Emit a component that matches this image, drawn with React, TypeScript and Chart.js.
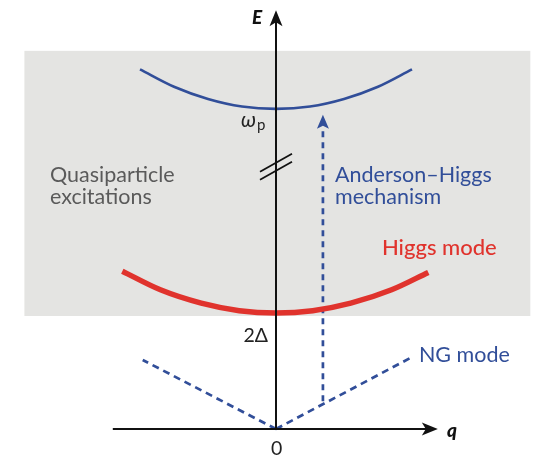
import React, { useEffect, useRef } from "react";
import { Chart, registerables } from "chart.js";

Chart.register(...registerables);

// ---- data (q in units of the NG-line extent, E in units of 2Δ) ----
const plasmaQ = [-1.0, -0.75, -0.5, -0.25, 0, 0.25, 0.5, 0.75, 1.0];
const plasmaE = [3.1, 2.95, 2.845, 2.78, 2.76, 2.78, 2.845, 2.95, 3.1];
const higgsQ = [-1.13, -0.85, -0.55, -0.27, 0, 0.27, 0.55, 0.85, 1.12];
const higgsE = [1.36, 1.2, 1.085, 1.02, 1.0, 1.02, 1.085, 1.2, 1.35];
const ngLeftQ = [0, -0.98];
const ngLeftE = [0, 0.595];
const ngRightQ = [0, 1.0];
const ngRightE = [0, 0.62];
const andersonQ = [0.345, 0.345];
const andersonE = [0.24, 2.6];
const andersonTipE = 2.71;
const continuumQ = [-1.85, 1.87];
const continuumE = [0.974, 3.26];
const qAxisRange = [-1.2, 1.19];
const eAxisRange = [0, 3.61];
const breakE = 2.26;

const FONT = "Lato, 'Open Sans', sans-serif";
const BLUE = "#314e99";
const RED = "#e0332d";
const GRAY_BG = "#e4e4e2";

type Label = { text: string; q: number; E: number; color: string; font: string; align: CanvasTextAlign };
const labels: Label[] = [
  { text: "Quasiparticle", q: -1.662, E: 2.129, color: "#5a5a5a", font: `21.5px ${FONT}`, align: "left" },
  { text: "excitations", q: -1.662, E: 1.94, color: "#5a5a5a", font: `21.5px ${FONT}`, align: "left" },
  { text: "Anderson–Higgs", q: 0.434, E: 2.129, color: BLUE, font: `21.5px ${FONT}`, align: "left" },
  { text: "mechanism", q: 0.434, E: 1.94, color: BLUE, font: `21.5px ${FONT}`, align: "left" },
  { text: "Higgs mode", q: 0.779, E: 1.5, color: RED, font: `500 22px ${FONT}`, align: "left" },
  { text: "NG mode", q: 1.051, E: 0.578, color: BLUE, font: `21.5px ${FONT}`, align: "left" },
  { text: "2Δ", q: -0.059, E: 0.75, color: "#222", font: `19.5px ${FONT}`, align: "right" },
  { text: "0", q: 0.005, E: -0.224, color: "#222", font: `19.5px ${FONT}`, align: "center" },
  { text: "ω", q: -0.257, E: 2.6, color: "#222", font: `italic 21px ${FONT}`, align: "left" },
  { text: "p", q: -0.14, E: 2.58, color: "#222", font: `15px ${FONT}`, align: "left" },
  { text: "E", q: -0.176, E: 3.49, color: "#111", font: `italic 900 19px ${FONT}`, align: "left" },
  { text: "q", q: 1.257, E: -0.069, color: "#111", font: `italic 900 19px ${FONT}`, align: "left" },
];

const pts = (xs: number[], ys: number[]) => xs.map((x, i) => ({ x, y: ys[i] }));

const schematicPlugin = {
  id: "schematic",
  beforeDatasetsDraw(chart: any) {
    const { ctx, scales } = chart;
    const X = (v: number) => scales.x.getPixelForValue(v);
    const Y = (v: number) => scales.y.getPixelForValue(v);
    ctx.save();
    ctx.fillStyle = GRAY_BG;
    ctx.fillRect(X(continuumQ[0]), Y(continuumE[1]), X(continuumQ[1]) - X(continuumQ[0]), Y(continuumE[0]) - Y(continuumE[1]));
    ctx.restore();
  },
  afterDatasetsDraw(chart: any) {
    const { ctx, scales } = chart;
    const X = (v: number) => scales.x.getPixelForValue(v);
    const Y = (v: number) => scales.y.getPixelForValue(v);
    ctx.save();
    // axes
    ctx.strokeStyle = "#111";
    ctx.fillStyle = "#111";
    ctx.lineWidth = 2;
    const x0 = X(0), y0 = Y(0);
    const yTop = Y(eAxisRange[1]);
    const xRight = X(qAxisRange[1]);
    ctx.beginPath();
    ctx.moveTo(x0, y0);
    ctx.lineTo(x0, yTop + 8);
    ctx.moveTo(X(qAxisRange[0]), y0);
    ctx.lineTo(xRight - 8, y0);
    ctx.stroke();
    // arrowheads
    ctx.beginPath();
    ctx.moveTo(x0, yTop);
    ctx.lineTo(x0 - 6.5, yTop + 16);
    ctx.lineTo(x0, yTop + 12);
    ctx.lineTo(x0 + 6.5, yTop + 16);
    ctx.closePath();
    ctx.fill();
    ctx.beginPath();
    ctx.moveTo(xRight, y0);
    ctx.lineTo(xRight - 16, y0 - 6.5);
    ctx.lineTo(xRight - 12, y0);
    ctx.lineTo(xRight - 16, y0 + 6.5);
    ctx.closePath();
    ctx.fill();
    // axis break
    const yb = Y(breakE);
    ctx.lineWidth = 1.8;
    ctx.beginPath();
    for (const off of [-4, 4]) {
      ctx.moveTo(x0 - 16, yb + off + 9);
      ctx.lineTo(x0 + 16, yb + off - 9);
    }
    ctx.stroke();
    // Anderson-Higgs arrowhead
    const xa = X(andersonQ[0]);
    const ya = Y(andersonTipE);
    ctx.fillStyle = BLUE;
    ctx.beginPath();
    ctx.moveTo(xa, ya);
    ctx.lineTo(xa - 6, ya + 14);
    ctx.lineTo(xa, ya + 11);
    ctx.lineTo(xa + 6, ya + 14);
    ctx.closePath();
    ctx.fill();
    // labels
    ctx.textBaseline = "alphabetic";
    for (const l of labels) {
      ctx.font = l.font;
      ctx.fillStyle = l.color;
      ctx.textAlign = l.align;
      ctx.fillText(l.text, X(l.q), Y(l.E));
    }
    ctx.restore();
  },
};

export default function App() {
  const ref = useRef<HTMLCanvasElement | null>(null);
  useEffect(() => {
    if (!ref.current) return;
    const dashed = { borderColor: BLUE, borderWidth: 2.7, borderDash: [7, 5], pointRadius: 0, tension: 0, fill: false };
    const chart = new Chart(ref.current, {
      type: "line",
      data: {
        datasets: [
          { data: pts(plasmaQ, plasmaE), borderColor: BLUE, borderWidth: 2.6, pointRadius: 0, tension: 0.4, cubicInterpolationMode: "monotone", fill: false },
          { data: pts(higgsQ, higgsE), borderColor: RED, borderWidth: 5.5, pointRadius: 0, tension: 0.4, cubicInterpolationMode: "monotone", fill: false, borderCapStyle: "butt" },
          { data: pts(ngLeftQ, ngLeftE), ...dashed },
          { data: pts(ngRightQ, ngRightE), ...dashed },
          { data: pts(andersonQ, andersonE), ...dashed, borderDash: [6, 5] },
        ] as any,
      },
      options: {
        responsive: false,
        animation: false,
        layout: { padding: 0 },
        plugins: { legend: { display: false }, tooltip: { enabled: false } },
        events: [],
        scales: {
          x: { type: "linear", display: false, min: -276 / 136, max: 263 / 136 },
          y: { type: "linear", display: false, min: -27 / 116, max: 429 / 116 },
        },
      },
      plugins: [schematicPlugin],
    });
    return () => chart.destroy();
  }, []);
  return (
    <div style={{ position: "absolute", left: 0, top: 0, width: 539, height: 456, background: "#fff" }}>
      <canvas ref={ref} width={539} height={456} />
    </div>
  );
}
